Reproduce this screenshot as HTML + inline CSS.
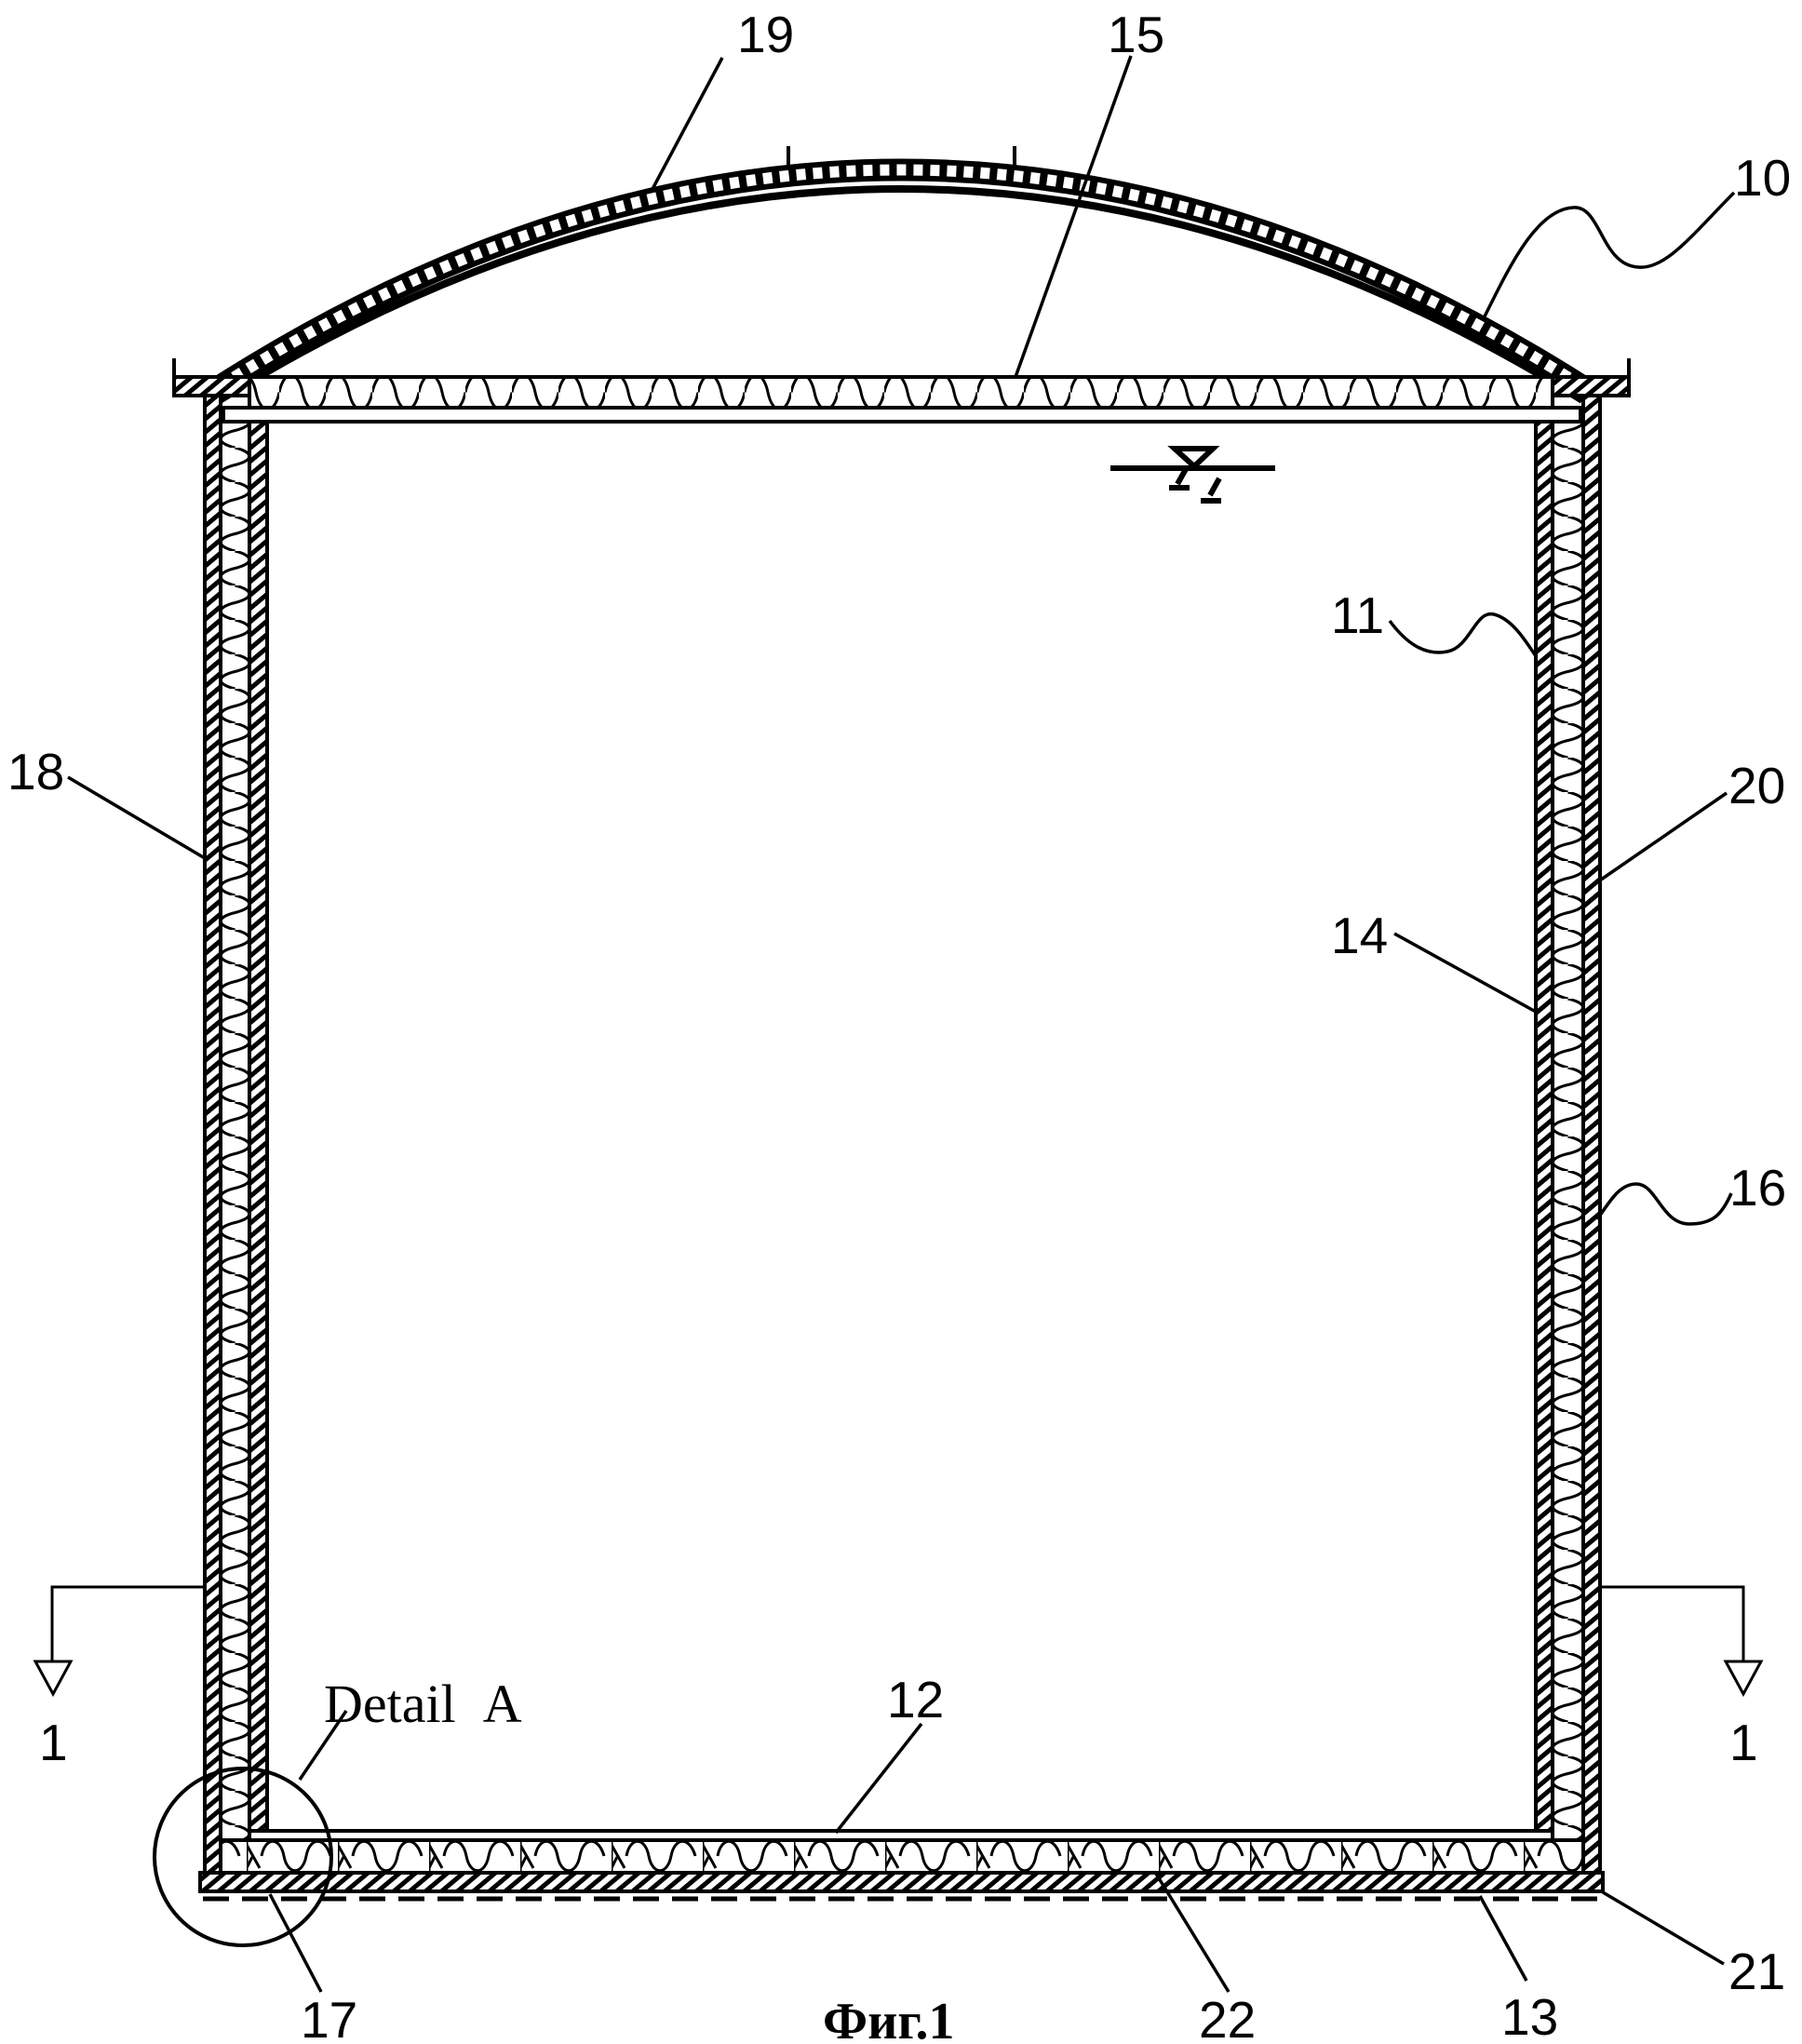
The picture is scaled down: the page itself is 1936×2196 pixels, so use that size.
<!DOCTYPE html>
<html><head><meta charset="utf-8"><style>
html,body{margin:0;padding:0;background:#fff}
svg{display:block}
text{font-family:"Liberation Sans",sans-serif;font-size:55px;fill:#000}
</style></head><body>
<svg width="1936" height="2196" viewBox="0 0 1936 2196" xmlns="http://www.w3.org/2000/svg">
<defs>
<pattern id="hatch" patternUnits="userSpaceOnUse" width="11" height="11" patternTransform="rotate(-40)">
<rect width="11" height="11" fill="#fff"/><rect width="11" height="5" fill="#000"/></pattern>
<pattern id="wvL" patternUnits="userSpaceOnUse" x="237" y="0" width="31" height="37">
<path d="M15.5,0 C36,5 36,13.5 15.5,18.5 C-5,23.5 -5,32 15.5,37" fill="none" stroke="#000" stroke-width="3"/></pattern>
<pattern id="wvR" patternUnits="userSpaceOnUse" x="1668" y="0" width="33" height="37">
<path d="M16.5,0 C38,5 38,13.5 16.5,18.5 C-5,23.5 -5,32 16.5,37" fill="none" stroke="#000" stroke-width="3"/></pattern>
<pattern id="wvT" patternUnits="userSpaceOnUse" x="0" y="405" width="50" height="33">
<path d="M0,16.5 C5,-8 20,-8 25,16.5 C30,41 45,41 50,16.5" fill="none" stroke="#000" stroke-width="3"/></pattern>
<pattern id="wvB" patternUnits="userSpaceOnUse" x="265" y="1977" width="98" height="35">
<path d="M16,17 C20,-4 36,-4 40,17 C44,38 60,38 64,17 C68,-4 84,-4 90,17" fill="none" stroke="#000" stroke-width="3"/>
<path d="M0,0 V35 M0,5 L14,30 M6,18 L0,30" fill="none" stroke="#000" stroke-width="3"/></pattern>
</defs>

<!-- roof -->
<g fill="none" stroke="#000">
<path d="M236,415 Q968,-50 1700,415" stroke-width="24"/>
<path d="M236,415 Q968,-50 1700,415" stroke="#fff" stroke-width="12" stroke-dasharray="10 8"/>
<path d="M236,430 Q968,-24 1700,430" stroke-width="8"/>
<path d="M236,438 Q968,-16 1700,438" stroke="#fff" stroke-width="4"/>
<path d="M847,157 V182 M1090,157 V182" stroke-width="4"/>
</g>

<!-- flange -->
<rect x="187" y="405" width="1563" height="20" fill="url(#hatch)" stroke="#000" stroke-width="4"/>
<path d="M187,385 V425 M1750,385 V425" stroke="#000" stroke-width="4"/>

<!-- deck insulation 15 -->
<rect x="268" y="405" width="1400" height="33" fill="#fff"/>
<rect x="268" y="405" width="1400" height="33" fill="url(#wvT)" stroke="#000" stroke-width="4"/>
<rect x="240" y="438" width="1458" height="15" fill="#fff" stroke="#000" stroke-width="4"/>

<!-- left walls -->
<rect x="220" y="425" width="17" height="1587" fill="url(#hatch)" stroke="#000" stroke-width="4"/>
<rect x="237" y="453" width="31" height="1524" fill="url(#wvL)" stroke="#000" stroke-width="3"/>
<rect x="268" y="453" width="19" height="1514" fill="url(#hatch)" stroke="#000" stroke-width="4"/>
<!-- right walls -->
<rect x="1701" y="425" width="18" height="1590" fill="url(#hatch)" stroke="#000" stroke-width="4"/>
<rect x="1668" y="453" width="33" height="1524" fill="url(#wvR)" stroke="#000" stroke-width="3"/>
<rect x="1650" y="453" width="18" height="1514" fill="url(#hatch)" stroke="#000" stroke-width="4"/>

<!-- bottom -->
<rect x="268" y="1967" width="1400" height="10" fill="#fff" stroke="#000" stroke-width="4"/>
<rect x="237" y="1977" width="1464" height="35" fill="url(#wvB)" stroke="#000" stroke-width="4"/>
<rect x="215" y="2012" width="1507" height="20" fill="url(#hatch)" stroke="#000" stroke-width="4"/>
<path d="M218,2040 H1720" stroke="#000" stroke-width="5" stroke-dasharray="28 14"/>

<!-- liquid level -->
<g stroke="#000" stroke-width="6" fill="none">
<path d="M1193,503 H1370"/>
<path d="M1262,482 H1303 L1283,501 Z"/>
<path d="M1265,520 L1274,504 M1256,524 H1278 M1300,532 L1310,514 M1290,538 H1312"/>
</g>

<!-- detail circle -->
<circle cx="261" cy="1995" r="95" fill="none" stroke="#000" stroke-width="4"/>

<!-- section markers -->
<g stroke="#000" stroke-width="3" fill="none">
<path d="M220,1705 H56 V1785"/>
<path d="M38,1785 H76 L57,1820 Z"/>
<path d="M1719,1705 H1873 V1785"/>
<path d="M1854,1785 H1892 L1873,1820 Z"/>
</g>

<!-- leaders -->
<g stroke="#000" stroke-width="3.5" fill="none">
<path d="M776,62 L700,205"/>
<path d="M1215,60 L1091,405"/>
<path d="M1863,207 C1820,250 1790,290 1760,287 C1720,285 1720,220 1690,223 C1650,225 1620,290 1595,340"/>
<path d="M1493,667 C1510,690 1530,705 1555,700 C1580,695 1585,655 1605,660 C1625,665 1640,690 1650,705"/>
<path d="M73,835 L220,922"/>
<path d="M1855,852 L1707,954"/>
<path d="M1498,1003 L1650,1087"/>
<path d="M1860,1282 C1850,1305 1840,1315 1815,1315 C1785,1315 1780,1272 1758,1272 C1740,1272 1730,1290 1716,1310"/>
<path d="M990,1852 L898,1969"/>
<path d="M372,1838 L322,1912"/>
<path d="M345,2140 L290,2035"/>
<path d="M1320,2140 L1242,2013"/>
<path d="M1640,2128 L1590,2037"/>
<path d="M1852,2110 L1722,2033"/>
</g>

<!-- labels -->
<text x="792" y="56">19</text>
<text x="1190" y="56">15</text>
<text x="1863" y="210">10</text>
<text x="1430" y="680">11</text>
<text x="8" y="848">18</text>
<text x="1857" y="863">20</text>
<text x="1430" y="1024">14</text>
<text x="1858" y="1295">16</text>
<text x="42" y="1891">1</text>
<text x="1858" y="1891">1</text>
<text x="348" y="1850" style="font-family:'Liberation Serif',serif;font-size:58px">Detail&#160;&#160;A</text>
<text x="953" y="1845">12</text>
<text x="323" y="2189">17</text>
<text x="1288" y="2189">22</text>
<text x="1613" y="2186">13</text>
<text x="1857" y="2137">21</text>
<text x="884" y="2190" style="font-family:'Liberation Serif',serif;font-weight:bold;font-size:56px">Фиг.1</text>
</svg>
</body></html>
